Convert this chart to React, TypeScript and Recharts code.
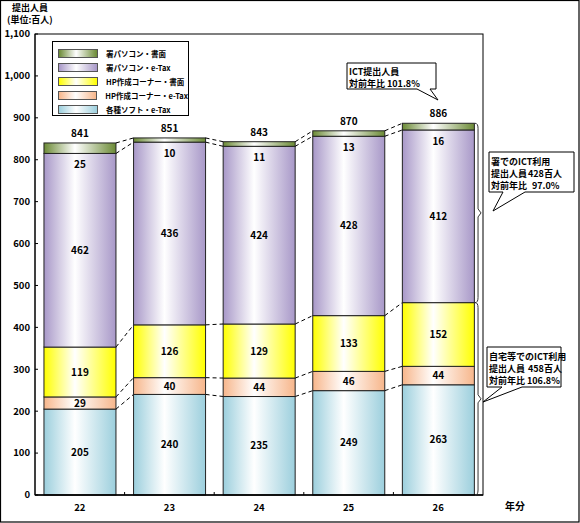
import React from 'react';
import { BarChart, Bar, XAxis, YAxis, Legend, LabelList } from 'recharts';

const years = ['22', '23', '24', '25', '26'];
const softEtax = [205, 240, 235, 249, 263];
const hpEtax = [29, 40, 44, 46, 44];
const hpPaper = [119, 126, 129, 133, 152];
const pcEtax = [462, 436, 424, 428, 412];
const pcPaper = [25, 10, 11, 13, 16];
const totals = [841, 851, 843, 870, 886];
const yTicks = [0, 100, 200, 300, 400, 500, 600, 700, 800, 900, 1000, 1100];

const seriesNames = ['各種ソフト・e-Tax', 'HP作成コーナー・e-Tax', 'HP作成コーナー・書面', '署パソコン・e-Tax', '署パソコン・書面'];
const seriesKeys = ['softEtax', 'hpEtax', 'hpPaper', 'pcEtax', 'pcPaper'];
const seriesValues = [softEtax, hpEtax, hpPaper, pcEtax, pcPaper];
const seriesColors = ['#9ccfdd', '#f7b68b', '#ffff00', '#a898c8', '#6b8a35'];

const FONT = "'Noto Sans CJK JP', 'Noto Sans', sans-serif";
const W = 580;
const H = 523;
const MARGIN = { top: 34, right: 97, bottom: 8, left: 5 };
const Y_AXIS_W = 30;
const X_AXIS_H = 20;
const Y_MAX = 1100;
const PLOT_LEFT = MARGIN.left + Y_AXIS_W;
const PLOT_TOP = MARGIN.top;
const PLOT_W = W - PLOT_LEFT - MARGIN.right;
const PLOT_H = H - PLOT_TOP - MARGIN.bottom - X_AXIS_H;
const STEP = PLOT_W / years.length;
const BAR_GAP = '10%';

const yOf = (v: number) => PLOT_TOP + PLOT_H * (1 - v / Y_MAX);

const data = years.map((year, i) => {
  const row: Record<string, string | number> = { year, total: totals[i] };
  seriesKeys.forEach((key, s) => {
    row[key] = seriesValues[s][i];
  });
  return row;
});

// running top of each stacked segment, per series
const cumTops = seriesValues.map((_, s) =>
  years.map((_, i) => seriesValues.slice(0, s + 1).reduce((sum, vals) => sum + vals[i], 0))
);

function makeSegment(s: number) {
  return (props: any) => {
    const { x, y, width, height, index } = props;
    const tops = cumTops[s];
    const hasNext = index + 1 < years.length;
    // pixels per unit, taken from the segment the library drew
    const k = height / seriesValues[s][index];
    return (
      <g>
        <rect x={x} y={y} width={width} height={height} fill={`url(#grad-${seriesKeys[s]})`} stroke="#222" strokeWidth={1} />
        {hasNext && (
          <line
            x1={x + width}
            y1={y}
            x2={x + STEP}
            y2={y + (tops[index] - tops[index + 1]) * k}
            stroke="#000"
            strokeWidth={1}
            strokeDasharray="4 3"
          />
        )}
      </g>
    );
  };
}

function TopLabels(props: any) {
  const vb = props.viewBox || props;
  const x = Number(vb.x);
  const y = Number(vb.y);
  const width = Number(vb.width);
  const height = Number(vb.height);
  const cx = x + width / 2;
  return (
    <g fontFamily={FONT} fontSize={10} fontWeight="bold" fill="#000" textAnchor="middle">
      <text x={cx} y={y + height + 15}>{props.value}</text>
      <text x={cx} y={y - 6}>{totals[props.index]}</text>
    </g>
  );
}

function LegendBox() {
  const rows = seriesKeys.map((key, s) => ({ key, name: seriesNames[s], color: seriesColors[s] })).reverse();
  return (
    <div
      style={{
        border: '1px solid #000',
        background: '#fff',
        width: 137,
        height: 75,
        boxSizing: 'border-box',
        padding: '4px 0 0 5px',
      }}
    >
      {rows.map((r) => (
        <div key={r.key} style={{ display: 'flex', alignItems: 'center', height: 14.2 }}>
          <div
            style={{
              width: 38,
              height: 7,
              border: '1px solid #555',
              background: `linear-gradient(to right, ${r.color} 0%, #fff 45%, ${r.color} 100%)`,
            }}
          />
          <span style={{ marginLeft: 8, fontSize: 7.5, fontWeight: 'bold', fontFamily: FONT, color: '#000', whiteSpace: 'nowrap' }}>
            {r.name}
          </span>
        </div>
      ))}
    </div>
  );
}

function brace(x0: number, top: number, bottom: number) {
  const mid = (top + bottom) / 2;
  const xa = x0 + 3;
  const xt = x0 + 6;
  return `M${x0},${top} Q${xa},${top} ${xa},${top + 5} L${xa},${mid - 4} L${xt},${mid} L${xa},${mid + 4} L${xa},${bottom - 5} Q${xa},${bottom} ${x0},${bottom}`;
}

export default function App() {
  const last = years.length - 1;
  const barW = STEP * 0.8;
  const braceX = PLOT_LEFT + STEP * (last + 0.5) + barW / 2 + 1;
  const homeTop = cumTops[2][last];
  const officeTop = cumTops[4][last];

  return (
    <div style={{ position: 'relative', width: W, height: H, background: '#fff' }}>
      <style>{'body{margin:0}'}</style>
      <BarChart width={W} height={H} data={data} margin={MARGIN} barCategoryGap={BAR_GAP}>
        <defs>
          {seriesKeys.map((key, s) => (
            <linearGradient key={key} id={`grad-${key}`} x1="0" y1="0" x2="1" y2="0">
              <stop offset="0%" stopColor={seriesColors[s]} />
              <stop offset="43%" stopColor="#ffffff" />
              <stop offset="100%" stopColor={seriesColors[s]} />
            </linearGradient>
          ))}
        </defs>
        <XAxis
          dataKey="year"
          height={X_AXIS_H}
          tickLine={false}
          tickSize={0}
          tickMargin={9}
          axisLine={{ stroke: '#000', strokeWidth: 1.5 }}
          tick={{ fill: '#000', fontSize: 9.5, fontWeight: 'bold', fontFamily: FONT }}
        />
        <YAxis
          width={Y_AXIS_W}
          domain={[0, Y_MAX]}
          ticks={yTicks}
          interval={0}
          tickSize={-3}
          tickMargin={8}
          tickLine={{ stroke: '#000' }}
          axisLine={{ stroke: '#000' }}
          tickFormatter={(v: number) => v.toLocaleString('en-US')}
          tick={{ fill: '#000', fontSize: 9.5, fontWeight: 'bold', fontFamily: FONT }}
        />
        <Legend
          layout="vertical"
          align="center"
          verticalAlign="middle"
          content={<LegendBox />}
          wrapperStyle={{ left: 52, top: 41, width: 137, height: 75 }}
        />
        {seriesKeys.map((key, s) => (
          <Bar
            key={key}
            dataKey={key}
            name={seriesNames[s]}
            stackId="a"
            fill={seriesColors[s]}
            shape={makeSegment(s)}
            isAnimationActive={false}
          >
            {s < 4 ? (
              <LabelList dataKey={key} position="center" fill="#000" fontSize={10} fontWeight="bold" fontFamily={FONT} />
            ) : (
              <LabelList dataKey={key} content={<TopLabels />} />
            )}
          </Bar>
        ))}
      </BarChart>

      <svg
        width={W}
        height={H}
        style={{ position: 'absolute', left: 0, top: 0, pointerEvents: 'none' }}
        fontFamily={FONT}
        fontWeight="bold"
      >
        <rect x={0.5} y={0.5} width={W - 1.5} height={H - 1.5} fill="none" stroke="#000" strokeWidth={1.2} />
        <rect x={PLOT_LEFT} y={PLOT_TOP} width={PLOT_W} height={PLOT_H} fill="none" stroke="#000" strokeWidth={1} />
        {years.slice(1).map((_, j) => (
          <line
            key={j}
            x1={PLOT_LEFT + STEP * (j + 1)}
            x2={PLOT_LEFT + STEP * (j + 1)}
            y1={PLOT_TOP + PLOT_H}
            y2={PLOT_TOP + PLOT_H - 3}
            stroke="#000"
          />
        ))}

        <text x={12} y={11} fontSize={9}>提出人員</text>
        <text x={7} y={23} fontSize={9}>(単位:百人)</text>
        <text x={505} y={510} fontSize={10}>年分</text>

        <path d={brace(braceX, yOf(officeTop), yOf(homeTop))} fill="none" stroke="#333" strokeWidth={1} />
        <path d={brace(braceX, yOf(homeTop), yOf(0))} fill="none" stroke="#333" strokeWidth={1} />

        <path d="M347,63 H436 V89 H430 L438,100 L417,89 H347 Z" fill="#fff" stroke="#000" strokeWidth={1} />
        <text fontSize={9}>
          <tspan x={349} y={75}>ICT提出人員</tspan>
          <tspan x={349} y={87}>対前年比</tspan>
          <tspan x={387} y={87}>101.8%</tspan>
        </text>

        <path d="M489,152 H574 V192 H525 L493,211 L503,192 H489 Z" fill="#fff" stroke="#000" strokeWidth={1} />
        <text fontSize={9}>
          <tspan x={491} y={165}>署でのICT利用</tspan>
          <tspan x={491} y={177}>提出人員</tspan>
          <tspan x={528} y={177}>428百人</tspan>
          <tspan x={491} y={189}>対前年比</tspan>
          <tspan x={532} y={189}>97.0%</tspan>
        </text>

        <path d="M487,347 H561 V387 H522 L483,402 L502,387 H487 Z" fill="#fff" stroke="#000" strokeWidth={1} />
        <text fontSize={9}>
          <tspan x={489} y={360}>自宅等でのICT利用</tspan>
          <tspan x={489} y={372}>提出人員</tspan>
          <tspan x={528} y={372}>458百人</tspan>
          <tspan x={489} y={384}>対前年比</tspan>
          <tspan x={527} y={384}>106.8%</tspan>
        </text>
      </svg>
    </div>
  );
}
